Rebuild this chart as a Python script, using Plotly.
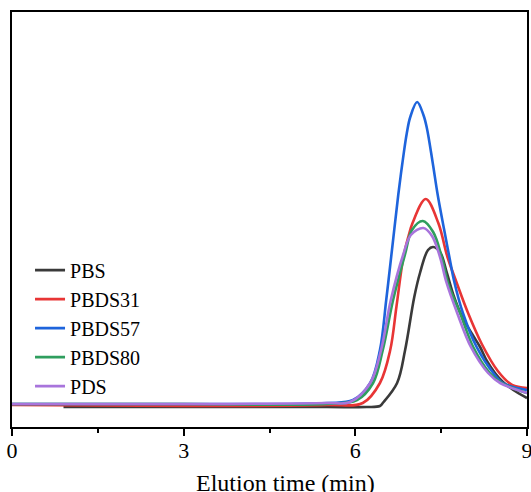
import plotly.graph_objects as go

# Elution time (min) and detector response (arbitrary units)
pbs_t = [0.9, 3.0, 5.5, 6.2, 6.43, 6.48, 6.73, 6.87, 7.03, 7.13, 7.27, 7.36, 7.48, 7.60, 7.72, 7.86, 8.04, 8.18, 8.30, 8.44, 8.58, 8.76, 9.0]
pbs_y = [-1, -1, -1, -1, 0, 3, 23, 56, 109, 133, 156, 159, 154, 133, 110, 90, 72, 59, 45, 33, 24, 16, 8]

pbds31_t = [0.0, 3.0, 5.5, 6.13, 6.43, 6.61, 6.72, 6.84, 6.93, 7.00, 7.23, 7.45, 7.61, 7.76, 7.97, 8.21, 8.49, 8.74, 9.0]
pbds31_y = [1, 0, 1, 3, 23, 56, 100, 149, 170, 183, 207, 183, 149, 125, 93, 62, 35, 21, 18]

pbds57_t = [0.0, 3.0, 5.5, 5.96, 6.26, 6.43, 6.54, 6.64, 6.75, 6.82, 6.90, 6.96, 7.08, 7.19, 7.25, 7.35, 7.44, 7.55, 7.64, 7.73, 7.88, 8.12, 8.41, 8.58, 9.0]
pbds57_y = [2, 2, 3, 6, 23, 56, 106, 156, 211, 242, 273, 289, 304, 291, 278, 244, 211, 177, 150, 124, 93, 59, 33, 23, 16]

pbds80_t = [0.0, 3.0, 5.5, 6.03, 6.31, 6.48, 6.66, 6.87, 6.99, 7.18, 7.36, 7.51, 7.63, 7.83, 8.06, 8.35, 8.56, 9.0]
pbds80_y = [2, 2, 2, 6, 23, 56, 106, 152, 176, 185, 174, 149, 121, 93, 59, 33, 23, 13]

pds_t = [0.0, 3.0, 5.5, 5.91, 6.26, 6.45, 6.62, 6.84, 6.97, 7.19, 7.34, 7.48, 7.59, 7.78, 8.02, 8.32, 8.53, 9.0]
pds_y = [2, 2, 3, 4, 23, 56, 106, 152, 171, 178, 170, 149, 124, 93, 59, 33, 23, 13]

names = ["PBS", "PBDS31", "PBDS57", "PBDS80", "PDS"]
colors = ["#3a3a3a", "#e83535", "#1e64dc", "#2f9e5e", "#a874dc"]
series = [(pbs_t, pbs_y), (pbds31_t, pbds31_y), (pbds57_t, pbds57_y),
          (pbds80_t, pbds80_y), (pds_t, pds_y)]

fig = go.Figure()
for name, color, (t, y) in zip(names, colors, series):
    fig.add_trace(go.Scatter(x=t, y=y, mode="lines", name=name,
                             line=dict(color=color, width=2.6, shape="spline", smoothing=1.0)))

serif = "Liberation Serif"
fig.update_layout(
    width=531, height=492,
    margin=dict(l=12, r=4, t=12, b=65),
    plot_bgcolor="white", paper_bgcolor="white",
    font=dict(family=serif, color="black"),
    showlegend=True,
    legend=dict(x=0.035, y=0.425, xanchor="left", yanchor="top",
                font=dict(family=serif, size=20, color="black"),
                bgcolor="rgba(0,0,0,0)", tracegroupgap=0, itemwidth=30),
    xaxis=dict(range=[0, 9], tickvals=[0, 3, 6, 9], ticks="outside", ticklen=7, tickwidth=1.5,
               tickcolor="black", showline=True, linecolor="black", linewidth=1.8, mirror=True,
               showgrid=False, zeroline=False, tickfont=dict(family=serif, size=22),
               automargin=False, ticklabeloverflow="allow", ticklabelstandoff=-4,
               minor=dict(tickvals=[1.5, 4.5, 7.5], ticks="outside", ticklen=4, tickwidth=1.5,
                          tickcolor="black", showgrid=False)),
    yaxis=dict(range=[-21, 394], showticklabels=False, ticks="", showline=True, linecolor="black",
               linewidth=1.8, mirror=True, showgrid=False, zeroline=False, automargin=False),
    annotations=[dict(text="Elution time (min)", xref="paper", yref="paper", x=0.532, y=-0.098,
                      xanchor="center", yanchor="top", showarrow=False,
                      font=dict(family=serif, size=24, color="black"))],
)

fig.write_html("out.html", config={"displayModeBar": False},
               post_script="document.body.style.margin='0';document.body.style.overflow='hidden';")
